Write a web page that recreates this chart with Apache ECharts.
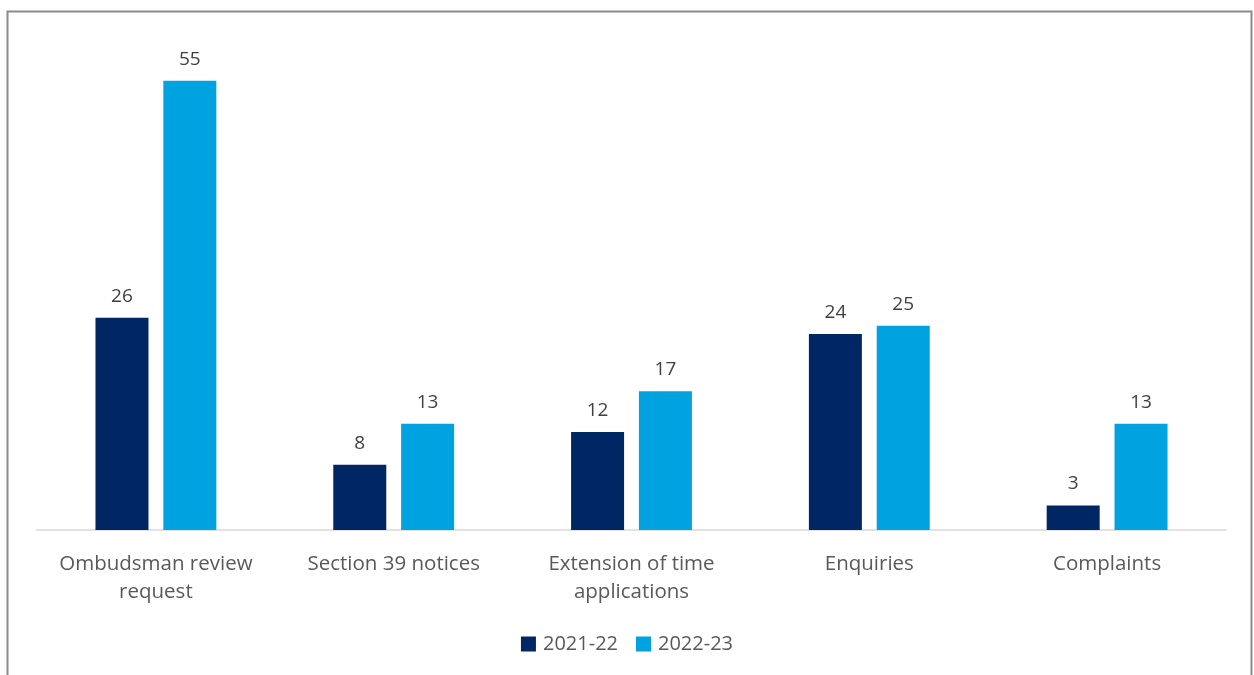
<!DOCTYPE html>
<html>
<head>
<meta charset="utf-8">
<script src="https://cdn.jsdelivr.net/npm/echarts@6/dist/echarts.min.js"></script>
<style>
html,body{margin:0;padding:0;background:#fff;}
#chart{width:1254px;height:675px;}
</style>
</head>
<body>
<div id="chart"></div>
<script>
const categories = ['Ombudsman review\nrequest', 'Section 39 notices', 'Extension of time\napplications', 'Enquiries', 'Complaints'];
const seriesNames = ['2021-22', '2022-23'];
const values2021 = [26, 8, 12, 24, 3];
const values2022 = [55, 13, 17, 25, 13];
const colors = ['#002664', '#00A3E0'];

const chart = echarts.init(document.getElementById('chart'), null, {renderer: 'canvas'});
const font = '"Open Sans", "Liberation Sans", sans-serif';
const labelCfg = {show: true, position: 'top', color: '#404040', fontSize: 19, fontFamily: font, distance: 12};
chart.setOption({
  animation: false,
  textStyle: {fontFamily: font},
  graphic: [{
    type: 'rect',
    shape: {x: 7.5, y: 11.5, width: 1244, height: 700},
    style: {fill: 'none', stroke: '#8a8a8a', lineWidth: 2},
    silent: true
  }],
  grid: {left: 37, right: 28, top: 40, bottom: 145, containLabel: false},
  legend: {
    data: seriesNames,
    bottom: 16,
    left: 'center',
    itemWidth: 15,
    itemHeight: 15,
    itemGap: 18,
    icon: 'rect',
    textStyle: {color: '#595959', fontSize: 20, fontFamily: font, padding: [0, 0, 0, 2]}
  },
  xAxis: {
    type: 'category',
    data: categories,
    axisLine: {lineStyle: {color: '#D9D9D9', width: 1.5}},
    axisTick: {show: false},
    axisLabel: {color: '#595959', fontSize: 20.5, fontFamily: font, lineHeight: 28, margin: 20, interval: 0}
  },
  yAxis: {
    type: 'value',
    min: 0,
    max: 60,
    show: false,
    splitLine: {show: false}
  },
  series: [
    {name: seriesNames[0], type: 'bar', data: values2021, barWidth: 53, barGap: '28%', itemStyle: {color: colors[0]}, label: labelCfg},
    {name: seriesNames[1], type: 'bar', data: values2022, barWidth: 53, barGap: '28%', itemStyle: {color: colors[1]}, label: labelCfg}
  ]
});
</script>
</body>
</html>
